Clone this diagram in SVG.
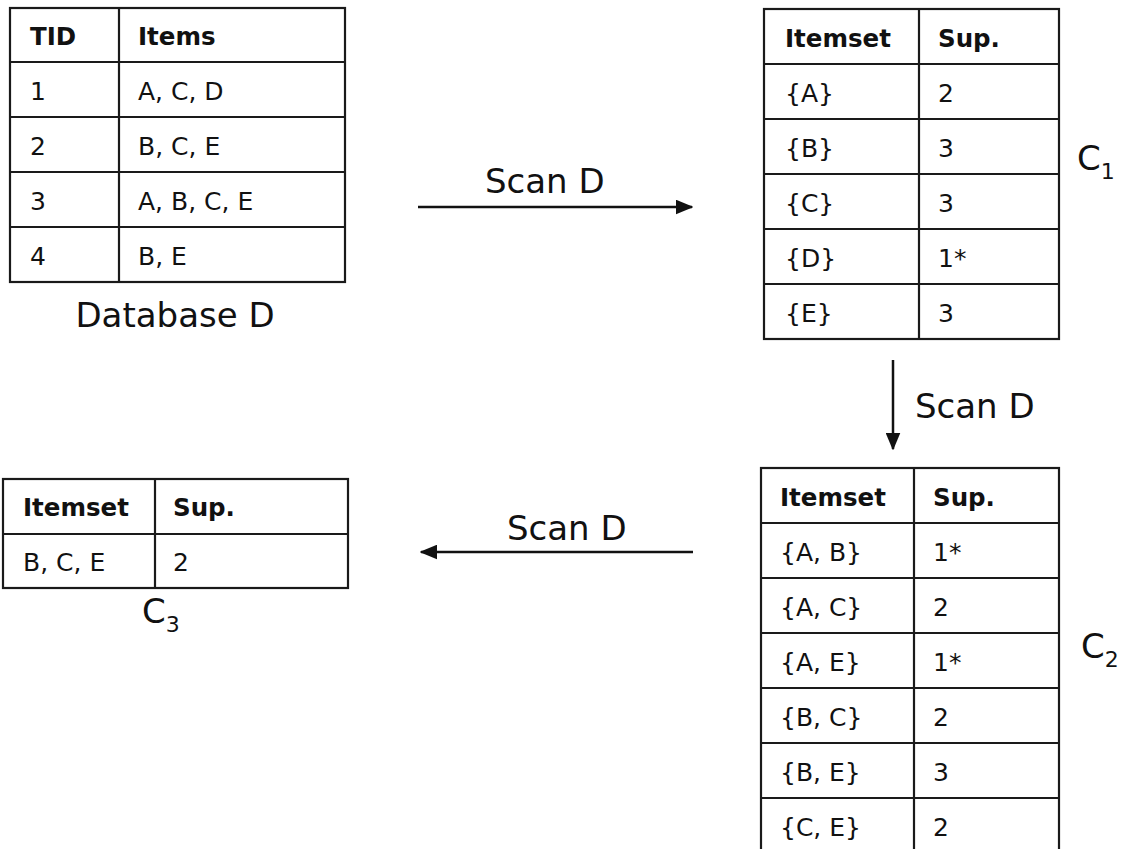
<svg xmlns="http://www.w3.org/2000/svg" width="1125" height="849" viewBox="0 0 1125 849">
  <style>
    text { font-family: "DejaVu Sans", "Open Sans", sans-serif; fill: #111; }
    .cell { font-size: 25px; }
    .head { font-size: 24.5px; font-weight: bold; }
    .label { font-size: 34px; }
    .sub { font-size: 22px; }
    .grid { fill: none; stroke: #1a1a1a; stroke-width: 2.2; }
    .conn { stroke: #111; stroke-width: 2.5; fill: none; }
  </style>
  <defs>
    <marker id="arrow" viewBox="0 0 12 10" refX="11" refY="5" markerWidth="7" markerHeight="6" markerUnits="strokeWidth" orient="auto">
      <path d="M0,0 L12,5 L0,10 Z" fill="#111"/>
    </marker>
  </defs>
  <rect width="1125" height="849" fill="#ffffff"/>

  <!-- Transaction database -->
  <g id="database-d">
    <rect class="grid" x="10" y="8" width="335" height="274"/>
    <path class="grid" d="M119,8 V282 M10,62 H345 M10,117 H345 M10,172 H345 M10,227 H345"/>
    <text class="head" x="30" y="45">TID</text>
    <text class="head" x="138" y="45">Items</text>
    <text class="cell" x="30" y="100">1</text>
    <text class="cell" x="138" y="100">A, C, D</text>
    <text class="cell" x="30" y="155">2</text>
    <text class="cell" x="138" y="155">B, C, E</text>
    <text class="cell" x="30" y="210">3</text>
    <text class="cell" x="138" y="210">A, B, C, E</text>
    <text class="cell" x="30" y="265">4</text>
    <text class="cell" x="138" y="265">B, E</text>
    <text class="label" x="175" y="327" text-anchor="middle">Database D</text>
  </g>

  <!-- Candidate 1-itemsets -->
  <g id="c1">
    <rect class="grid" x="764" y="9" width="295" height="330"/>
    <path class="grid" d="M919,9 V339 M764,64 H1059 M764,119 H1059 M764,174 H1059 M764,229 H1059 M764,284 H1059"/>
    <text class="head" x="785" y="47">Itemset</text>
    <text class="head" x="938" y="47">Sup.</text>
    <text class="cell" x="785" y="102">{A}</text>
    <text class="cell" x="938" y="102">2</text>
    <text class="cell" x="785" y="157">{B}</text>
    <text class="cell" x="938" y="157">3</text>
    <text class="cell" x="785" y="212">{C}</text>
    <text class="cell" x="938" y="212">3</text>
    <text class="cell" x="785" y="267">{D}</text>
    <text class="cell" x="938" y="267">1*</text>
    <text class="cell" x="785" y="322">{E}</text>
    <text class="cell" x="938" y="322">3</text>
    <text class="label" x="1077" y="170">C<tspan class="sub" dy="9">1</tspan></text>
  </g>

  <!-- Candidate 2-itemsets -->
  <g id="c2">
    <rect class="grid" x="761" y="468" width="298" height="385"/>
    <path class="grid" d="M914,468 V853 M761,523 H1059 M761,578 H1059 M761,633 H1059 M761,688 H1059 M761,743 H1059 M761,798 H1059"/>
    <text class="head" x="780" y="506">Itemset</text>
    <text class="head" x="933" y="506">Sup.</text>
    <text class="cell" x="780" y="561">{A, B}</text>
    <text class="cell" x="933" y="561">1*</text>
    <text class="cell" x="780" y="616">{A, C}</text>
    <text class="cell" x="933" y="616">2</text>
    <text class="cell" x="780" y="671">{A, E}</text>
    <text class="cell" x="933" y="671">1*</text>
    <text class="cell" x="780" y="726">{B, C}</text>
    <text class="cell" x="933" y="726">2</text>
    <text class="cell" x="780" y="781">{B, E}</text>
    <text class="cell" x="933" y="781">3</text>
    <text class="cell" x="780" y="836">{C, E}</text>
    <text class="cell" x="933" y="836">2</text>
    <text class="label" x="1081" y="658">C<tspan class="sub" dy="9">2</tspan></text>
  </g>

  <!-- Candidate 3-itemsets -->
  <g id="c3">
    <rect class="grid" x="3" y="479" width="345" height="109"/>
    <path class="grid" d="M155,479 V588 M3,534 H348"/>
    <text class="head" x="23" y="516">Itemset</text>
    <text class="head" x="173" y="516">Sup.</text>
    <text class="cell" x="23" y="571">B, C, E</text>
    <text class="cell" x="173" y="571">2</text>
    <text class="label" x="142" y="623">C<tspan class="sub" dy="9">3</tspan></text>
  </g>

  <!-- Scan steps -->
  <g id="connectors">
    <line class="conn" x1="418" y1="207" x2="692" y2="207" marker-end="url(#arrow)"/>
    <text class="label" x="485" y="193">Scan D</text>
    <line class="conn" x1="893" y1="360" x2="893" y2="449" marker-end="url(#arrow)"/>
    <text class="label" x="915" y="418">Scan D</text>
    <line class="conn" x1="693" y1="552" x2="421" y2="552" marker-end="url(#arrow)"/>
    <text class="label" x="507" y="540">Scan D</text>
  </g>
</svg>
